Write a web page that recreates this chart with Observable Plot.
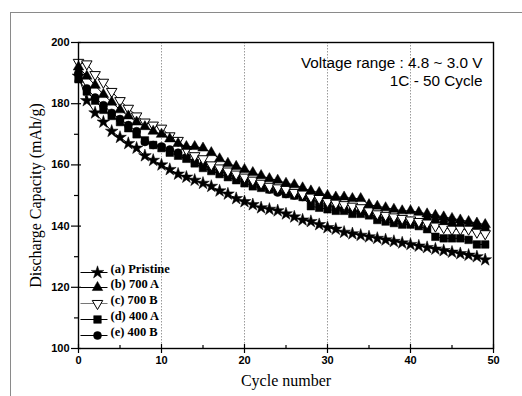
<!DOCTYPE html>
<html>
<head>
<meta charset="utf-8">
<script src="https://cdn.jsdelivr.net/npm/d3@7"></script>
<script src="https://cdn.jsdelivr.net/npm/@observablehq/plot@0.6"></script>
<style>
  html, body { margin: 0; padding: 0; background: #fff; overflow: hidden; }
  #wrap { position: relative; width: 522px; height: 396px; overflow: hidden; }
  #btop { position: absolute; left: 10px; top: 12px; width: 512px; height: 0; border-top: 1px solid #8a8a8a; }
  #bleft { position: absolute; left: 10px; top: 12px; width: 0; height: 384px; border-left: 1px solid #8a8a8a; }
  #chart { position: absolute; left: 0; top: 0; }
</style>
</head>
<body>
<div id="wrap"><div id="btop"></div><div id="bleft"></div><div id="chart"></div></div>
<script>
const cycles = d3.range(0, 50);
const pristine = [189,181,177,174,171,169,167,165.5,163,161.5,160,158.5,157,156,155,154,153,151.5,150.5,149,148,147,146,145.5,145,144,143,142,141.5,140.5,139.5,139,138,137.5,137,136.5,136,135.5,135,134.5,134,133.5,133,132.5,132,131.5,131,130.5,130,129];
const a700 = [192,189,186,183,180.5,178,176,174,172.5,171,170,168.5,167,166,166,165.5,164,162,160.5,159.5,158.5,157.5,156.5,155.5,155,154,153.5,152.5,151.5,151,150,149.5,149.5,149,149,147,146.5,146,145.5,145,145,144.5,144,143.5,143,142.5,142,141.5,141,140.5];
const b700 = [193.5,193,189.5,187,184,181,178.5,176,174,173,172,169.5,168,165,163,162,160,159,158,157,156,155,154,153,152.5,152,151,150.5,149.5,149,148,147.5,147,146.5,146,145,144,143.5,143,142.5,142,141.5,141,140,139.5,139,139,139,138,137.5];
const a400 = [188,184,181,178,176,174,172,170,168,166.5,165.5,164,163,162,160.5,159,158,157,156,155,154,153,152.5,152,151.5,150.5,150,149.5,146.5,146,145.5,145,145,144,144,143.5,142,141.5,141,140.5,140.5,140,139,136.5,136,136,136,135.5,134,134];
const b400 = [190,185,182,179.5,177,175,173,171,167.5,166.5,166,165,164,162.5,161,160,159,158,157,156,155,154,153,152,151,150.5,150,149.5,148.5,148,147,146,145.5,145,144.5,144,143,142.5,142,141.5,141,141,142,141.5,141,140.5,140,139.5,139.5,139];
const seriesNames = ["(a) Pristine", "(b) 700 A", "(c) 700 B", "(d) 400 A", "(e) 400 B"];
const xTicks = [0, 10, 20, 30, 40, 50];
const xMinor = [5, 15, 25, 35, 45];
const yTicks = [100, 120, 140, 160, 180, 200];
const yMinor = [110, 130, 150, 170, 190];
const gridCycles = [10, 20, 30, 40];
const noteText = "Voltage range : 4.8 ~ 3.0 V\n1C - 50 Cycle";

const sqrt3 = Math.sqrt(3);
const triangleDown = {
  draw(context, size) {
    const y = -Math.sqrt(size / (sqrt3 * 3));
    context.moveTo(0, -y * 2);
    context.lineTo(-sqrt3 * y, y);
    context.lineTo(sqrt3 * y, y);
    context.closePath();
  }
};
const legendLine = {
  draw(context) { context.moveTo(-13.5, 0); context.lineTo(13.5, 0); }
};

const series = [
  {name: seriesNames[0], values: pristine, symbol: "star", fill: "black", r: 4},
  {name: seriesNames[1], values: a700, symbol: "triangle", fill: "black", r: 3.9},
  {name: seriesNames[2], values: b700, symbol: triangleDown, fill: "white", r: 3.9},
  {name: seriesNames[3], values: a400, symbol: "square", fill: "black", r: 4.3},
  {name: seriesNames[4], values: b400, symbol: "circle", fill: "black", r: 4}
];
const drawOrder = [0, 3, 4, 2, 1];
const legendDy = [-76, -61, -45, -29, -13];

const marks = [
  Plot.gridX(gridCycles, {stroke: "#9a9a9a", strokeOpacity: 1, strokeDasharray: "1.5,1.5", strokeWidth: 1}),
];
for (const i of drawOrder) {
  const s = series[i];
  const data = cycles.map((c, k) => ({c, v: s.values[k]}));
  marks.push(Plot.line(data, {x: "c", y: "v", stroke: "black", strokeWidth: 1}));
  marks.push(Plot.dot(data, {x: "c", y: "v", symbol: s.symbol, r: s.r, fill: s.fill, stroke: "black", strokeWidth: s.fill === "white" ? 1 : 0.5}));
}
series.forEach((s, i) => {
  marks.push(Plot.dot([0], {frameAnchor: "bottom-left", dx: 15.5, dy: legendDy[i], symbol: legendLine, r: 3, stroke: s.fill === "white" ? "#777" : "black", strokeWidth: 1}));
  marks.push(Plot.dot([0], {frameAnchor: "bottom-left", dx: 19, dy: legendDy[i], symbol: s.symbol, r: s.r, fill: s.fill, stroke: "black", strokeWidth: s.fill === "white" ? 1 : 0.5}));
  marks.push(Plot.text([s.name], {frameAnchor: "bottom-left", dx: 32, dy: legendDy[i], text: d => d, textAnchor: "start", fontFamily: "Liberation Serif, Times New Roman, serif", fontWeight: "bold", fontSize: 12.5, fill: "black"}));
});
marks.push(
  Plot.axisX(xTicks, {tickSize: 5, tickPadding: 3, fontFamily: "Liberation Sans, Arial, sans-serif", fontWeight: "bold", fontSize: 11, label: null, strokeWidth: 1.2}),
  Plot.axisX(xTicks, {tickSize: -4, text: null, label: null, strokeWidth: 1.2}),
  Plot.axisX(xMinor, {tickSize: -3, text: null, label: null, strokeWidth: 1.2}),
  Plot.axisY(yTicks, {tickSize: 7, tickPadding: 2, fontFamily: "Liberation Sans, Arial, sans-serif", fontWeight: "bold", fontSize: 11, label: null, strokeWidth: 1.2}),
  Plot.axisY(yTicks, {tickSize: -3, text: null, label: null, strokeWidth: 1.2}),
  Plot.axisY(yMinor, {tickSize: 4, text: null, label: null, strokeWidth: 1.2}),
  Plot.frame({stroke: "black", strokeWidth: 1.4}),
  Plot.text(["Discharge Capacity (mAh/g)"], {frameAnchor: "left", dx: -43, rotate: -90, textAnchor: "middle", text: d => d, fontFamily: "Liberation Serif, Times New Roman, serif", fontSize: 16, fill: "black"}),
  Plot.text(["Cycle number"], {frameAnchor: "bottom", dy: 37, text: d => d, fontFamily: "Liberation Serif, Times New Roman, serif", fontSize: 16, fill: "black"}),
  Plot.text([noteText], {frameAnchor: "top-right", dx: -11, dy: 12, lineAnchor: "top", textAnchor: "end", lineHeight: 1.2, text: d => d, fontFamily: "Liberation Sans, Arial, sans-serif", fontSize: 15.3, fill: "black"})
);

const chart = Plot.plot({
  width: 522,
  height: 396,
  marginLeft: 78,
  marginRight: 29,
  marginTop: 42,
  marginBottom: 48,
  style: {background: "transparent", color: "black", overflow: "visible"},
  x: {domain: [0, 50]},
  y: {domain: [100, 200]},
  marks
});
document.getElementById("chart").appendChild(chart);
</script>
</body>
</html>
